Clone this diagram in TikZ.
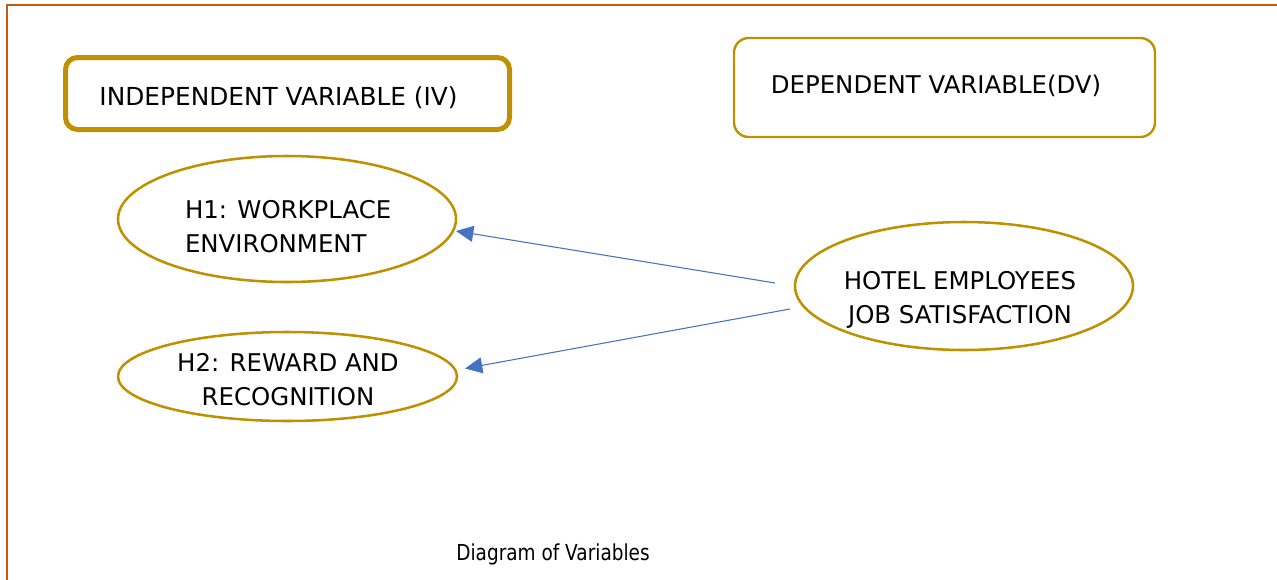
\documentclass[tikz,border=0pt]{standalone}
\usepackage{fontspec}
\setmainfont{DejaVu Sans}
\newfontfamily\capfont{DejaVu Sans}[FakeStretch=0.84]
\usetikzlibrary{arrows.meta,calc,shapes.geometric}
\definecolor{gold}{RGB}{191,144,0}
\definecolor{frameor}{RGB}{197,90,17}
\definecolor{arrblue}{RGB}{68,114,196}
\begin{document}
\begin{tikzpicture}[x=0.75pt,y=-0.75pt,
  lbl/.style={font=\fontsize{18.3}{25.5}\selectfont, inner sep=0pt, outer sep=0pt},
  ell/.style={ellipse, draw=gold, line width=1.9pt, inner sep=0pt, outer sep=0pt},
  arr/.style={draw=arrblue, line width=0.8pt, -{Triangle[length=13pt,width=12pt]}},
  framestyle/.style={draw=frameor, line width=2pt}
]
\useasboundingbox (0,0) rectangle (1277,579);
% frame
\coordinate (ftr) at (1278,5);
\coordinate (ftl) at (7,5);
\coordinate (fbl) at (7,580);
\draw[framestyle] (ftr) -- (ftl) -- (fbl);
% header boxes
\node[draw=gold, line width=3.75pt, rounded corners=9pt, minimum width=333pt, minimum height=54pt, inner sep=0pt] (ivbox) at (287.5,93.5) {};
\node[lbl, anchor=base, font=\fontsize{18.6}{25.5}\selectfont] (ivtxt) at (278.5,105) {INDEPENDENT VARIABLE (IV)};
\node[draw=gold, line width=1.8pt, rounded corners=11pt, minimum width=315.75pt, minimum height=74.25pt, inner sep=0pt] (dvbox) at (944.5,87.5) {};
\node[lbl, anchor=base] (dvtxt) at (936,93) {DEPENDENT VARIABLE(DV)};
% ellipses
\node[ell, minimum width=253.5pt, minimum height=94.5pt] (h1) at (287,219) {};
\node[lbl, anchor=base west, align=left] (h1txt) at (185,252) {H1: WORKPLACE\\ENVIRONMENT};
\node[ell, minimum width=254.25pt, minimum height=66.75pt] (h2) at (287.5,376.5) {};
\node[lbl, anchor=base, align=center] (h2txt) at (288,405) {H2: REWARD AND\\RECOGNITION};
\node[ell, minimum width=253.5pt, minimum height=96pt] (hotel) at (964,286) {};
\node[lbl, anchor=base, align=center] (hoteltxt) at (960,323) {HOTEL EMPLOYEES\\JOB SATISFACTION};
% arrows
\draw[arr] ($(hotel.west)+(-20,-3)$) -- ($(h1.east)+(0,12)$);
\draw[arr] ($(hotel.west)+(-5,23)$) -- ($(h2.east)+(8,-8)$);
% caption
\node[inner sep=0pt, anchor=base, font=\capfont\fontsize{16.5}{20}\selectfont] (caption) at (553,560) {Diagram of Variables};
\end{tikzpicture}
\end{document}
